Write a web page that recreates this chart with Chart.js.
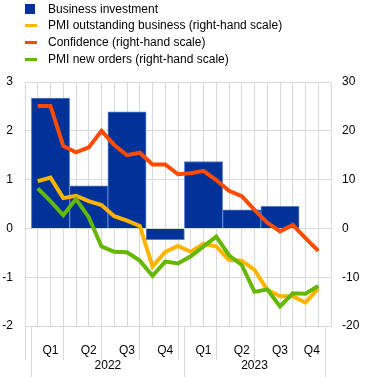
<!DOCTYPE html>
<html>
<head>
<meta charset="utf-8">
<script src="https://cdn.jsdelivr.net/npm/chart.js@4.4.0/dist/chart.umd.min.js"></script>
<style>
  html, body { margin: 0; padding: 0; background: #fff; }
  #wrap { position: relative; width: 372px; height: 377px; }
  #c { position: absolute; left: 0; top: 0; }
  .lg { position: absolute; left: 0; font: 12px "Liberation Sans", Arial, sans-serif; color: #000; white-space: nowrap; }
  .lg .mk { position: absolute; left: 25px; }
  .lg .tx { position: absolute; left: 48px; top: 0; line-height: 16px; }
</style>
</head>
<body>
<div id="wrap">
  <canvas id="c" width="372" height="377"></canvas>
  <div id="legend"></div>
</div>
<script>
// ---- data ----
const months = ['Jan 2022','Feb 2022','Mar 2022','Apr 2022','May 2022','Jun 2022','Jul 2022','Aug 2022','Sep 2022','Oct 2022','Nov 2022','Dec 2022',
                'Jan 2023','Feb 2023','Mar 2023','Apr 2023','May 2023','Jun 2023','Jul 2023','Aug 2023','Sep 2023','Oct 2023','Nov 2023'];
const quarterLabels = ['Q1','Q2','Q3','Q4','Q1','Q2','Q3','Q4'];
const yearLabels = ['2022','2023'];
const businessInvestment = [2.67, 0.87, 2.39, -0.23, 1.37, 0.38, 0.45];
const pmiOutstanding = [9.7, 10.4, 6.2, 6.7, 5.6, 4.8, 2.5, 1.6, 0.5, -7.8, -4.8, -3.6, -4.8, -3.1, -3.7, -6.5, -6.6, -8.5, -12.6, -13.9, -13.9, -15.2, -12.3];
const confidence = [25.1, 25.1, 16.9, 15.6, 16.6, 20.0, 17.1, 15.0, 15.5, 13.1, 13.1, 11.1, 11.3, 11.8, 9.9, 7.7, 6.6, 3.8, 1.2, -0.6, 0.7, -2.0, -4.6];
const pmiNewOrders = [8.2, 5.6, 2.7, 6.0, 2.3, -3.7, -4.8, -4.9, -6.6, -9.7, -6.8, -7.2, -5.7, -3.7, -1.7, -5.5, -7.5, -13.0, -12.5, -16.0, -13.3, -13.4, -11.8];
const leftTicks = [-2, -1, 0, 1, 2, 3];
const rightTicks = [-20, -10, 0, 10, 20, 30];

const legendItems = [
  { label: 'Business investment', color: '#003299', type: 'box' },
  { label: 'PMI outstanding business (right-hand scale)', color: '#ffb400', type: 'line' },
  { label: 'Confidence (right-hand scale)', color: '#ff4b00', type: 'line' },
  { label: 'PMI new orders (right-hand scale)', color: '#65b800', type: 'line' }
];

// ---- legend (HTML text) ----
const lg = document.getElementById('legend');
legendItems.forEach((it, i) => {
  const row = document.createElement('div');
  row.className = 'lg';
  row.style.top = (0.5 + i * 16.7) + 'px';
  row.style.height = '16px';
  row.style.width = '372px';
  const mk = document.createElement('div');
  mk.className = 'mk';
  if (it.type === 'box') { mk.style.top = '3px'; mk.style.width = '10px'; mk.style.height = '10px'; }
  else { mk.style.top = '7px'; mk.style.width = '12px'; mk.style.height = '3px'; }
  mk.style.background = it.color;
  const tx = document.createElement('div');
  tx.className = 'tx';
  tx.textContent = it.label;
  row.appendChild(mk); row.appendChild(tx);
  lg.appendChild(row);
});

// ---- build datasets ----
const nM = months.length;
const monthPts = arr => arr.map((v, i) => ({ x: i + 0.5, y: v }));
const quarterPts = businessInvestment.map((v, q) => ({ x: q * 3 + 1.5, y: v }));

const GRID = '#d9d9d9';
const FONT = { family: '"Liberation Sans", Arial, sans-serif', size: 12 };

const xLabelsPlugin = {
  id: 'xLabels',
  afterDraw(chart) {
    const ctx = chart.ctx, xs = chart.scales.x, area = chart.chartArea;
    ctx.save();
    // year separators
    ctx.strokeStyle = GRID; ctx.lineWidth = 1;
    [0, 12, nM].forEach(v => {
      const px = Math.round(xs.getPixelForValue(v)) + 0.5;
      ctx.beginPath(); ctx.moveTo(px, area.bottom); ctx.lineTo(px, chart.height); ctx.stroke();
    });
    ctx.fillStyle = '#000';
    ctx.font = '12px "Liberation Sans", Arial, sans-serif';
    ctx.textAlign = 'center'; ctx.textBaseline = 'middle';
    quarterLabels.forEach((l, q) => {
      const s = q * 3, e = Math.min(q * 3 + 3, nM);
      ctx.fillText(l, xs.getPixelForValue((s + e) / 2), area.bottom + 25);
    });
    yearLabels.forEach((l, k) => {
      const s = k * 12, e = Math.min(k * 12 + 12, nM);
      ctx.fillText(l, xs.getPixelForValue((s + e) / 2), area.bottom + 40);
    });
    ctx.restore();
  }
};

new Chart(document.getElementById('c'), {
  type: 'bar',
  data: {
    datasets: [
      { type: 'line', label: 'PMI new orders (right-hand scale)', data: monthPts(pmiNewOrders), xAxisID: 'x', yAxisID: 'yR',
        borderColor: '#65b800', borderWidth: 4, pointRadius: 0, tension: 0, order: 1 },
      { type: 'line', label: 'Confidence (right-hand scale)', data: monthPts(confidence), xAxisID: 'x', yAxisID: 'yR',
        borderColor: '#ff4b00', borderWidth: 4, pointRadius: 0, tension: 0, order: 2 },
      { type: 'line', label: 'PMI outstanding business (right-hand scale)', data: monthPts(pmiOutstanding), xAxisID: 'x', yAxisID: 'yR',
        borderColor: '#ffb400', borderWidth: 4, pointRadius: 0, tension: 0, order: 3 },
      { type: 'bar', label: 'Business investment', data: quarterPts, xAxisID: 'x', yAxisID: 'y',
        backgroundColor: '#003299', borderColor: '#5a7cc6', borderWidth: 1,
        barThickness: 'flex', barPercentage: 1, categoryPercentage: 1, order: 4 }
    ]
  },
  options: {
    responsive: false,
    animation: false,
    events: [],
    layout: { padding: { top: 82, left: 0, right: 0, bottom: 0 } },
    plugins: { legend: { display: false }, tooltip: { enabled: false } },
    scales: {
      x: {
        type: 'linear', min: 0, max: nM, position: 'bottom',
        ticks: { display: false, stepSize: 1 },
        afterBuildTicks: s => { s.ticks = months.map((m, i) => ({ value: i })).concat([{ value: nM }]); },
        grid: { color: GRID, lineWidth: 1, drawTicks: true, tickLength: 34,
                tickColor: c => (c.tick && c.tick.value % 3 === 0) ? GRID : 'rgba(0,0,0,0)' },
        border: { display: true, color: GRID },
        afterFit: s => { s.height = 51; }
      },
      y: {
        position: 'left', min: -2, max: 3,
        afterBuildTicks: s => { s.ticks = leftTicks.map(v => ({ value: v })); },
        ticks: { color: '#000', font: FONT, padding: 12 },
        grid: { color: GRID, drawTicks: false },
        border: { display: true, color: GRID },
        afterFit: s => { s.width = 25; }
      },
      yR: {
        position: 'right', min: -20, max: 30,
        afterBuildTicks: s => { s.ticks = rightTicks.map(v => ({ value: v })); },
        ticks: { color: '#000', font: FONT, padding: 11 },
        grid: { drawOnChartArea: false, drawTicks: false },
        border: { display: true, color: GRID },
        afterFit: s => { s.width = 41; }
      }
    }
  },
  plugins: [xLabelsPlugin]
});
</script>
</body>
</html>
